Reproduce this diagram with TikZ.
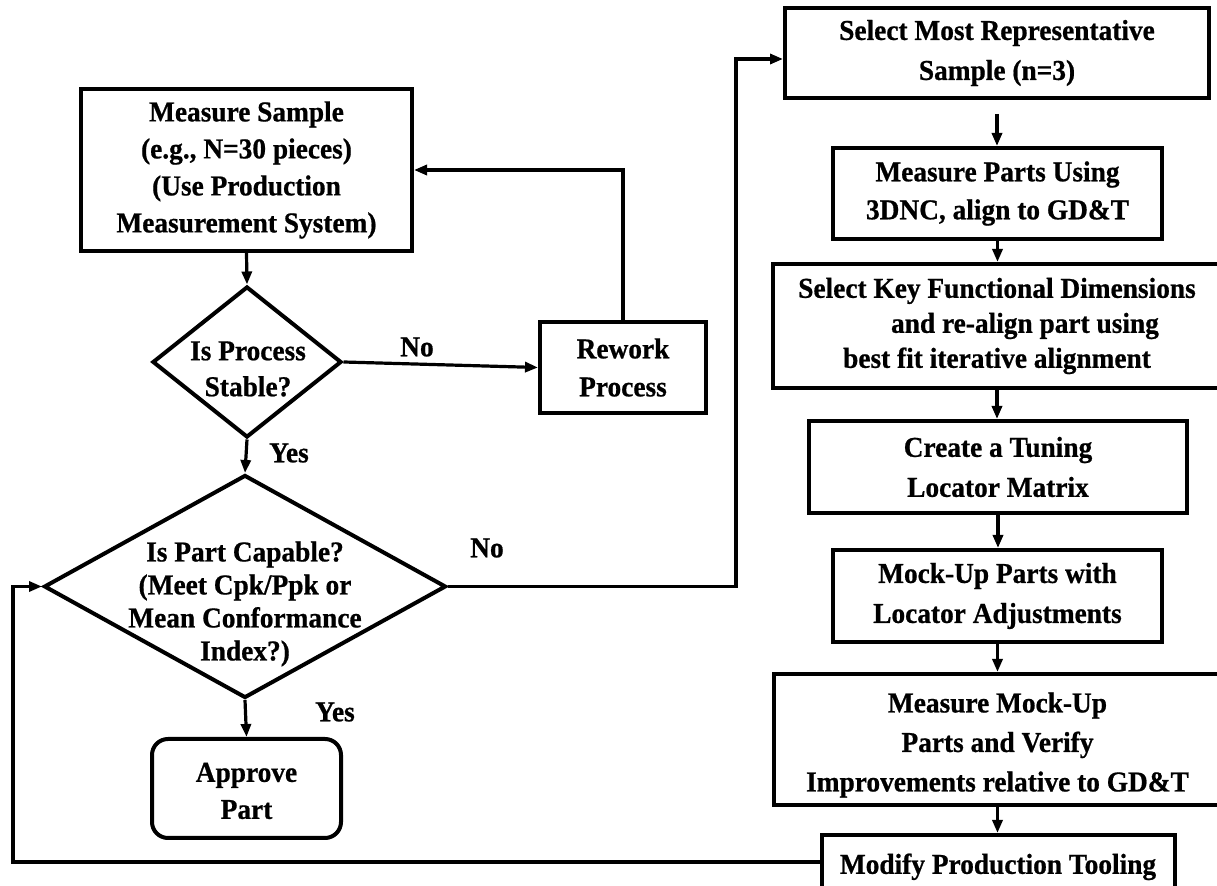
\documentclass[tikz,border=0pt]{standalone}
\usepackage{fontspec}
\setmainfont{Liberation Serif}[BoldFeatures={FakeBold=0.7,FakeStretch=0.95}]
\usetikzlibrary{shapes.geometric,arrows.meta}
\begin{document}
\begin{tikzpicture}[x=0.5pt,y=-0.5pt,
  ls/.style={font=\bfseries\fontsize{14.4}{#1}\selectfont},
  box/.style={draw, line width=2pt, align=center, inner sep=0pt, ls=19pt},
  dia/.style={draw, diamond, line width=2pt, inner sep=0pt},
  dtext/.style={align=center, inner sep=0pt},
  arr/.style={line width=1.6pt, -{Triangle[length=6.5pt,width=5pt]}},
  lbl/.style={inner sep=0pt, ls=16pt},
]
\useasboundingbox (0,0) rectangle (1217,886);

% left column
\node[box, ls=18.5pt, minimum width=165.5pt, minimum height=81pt] (ms) at (246.5,170)
  {Measure Sample\\(e.g., N=30 pieces)\\(Use Production\\Measurement System)};
\node[dia, minimum width=94.5pt, minimum height=75.5pt] (d1) at (247,362) {};
\node[dtext, ls=18pt] (t1) at (248,369) {Is Process\\Stable?};
\node[box, minimum width=83pt, minimum height=45.5pt] (rw) at (623,367.5) {Rework\\Process};
\node[dia, minimum width=201pt, minimum height=111.5pt] (d2) at (245,586.5) {};
\node[dtext, ls=16.5pt] (t2) at (245,604) {Is Part Capable?\\(Meet Cpk/Ppk or\\Mean Conformance\\Index?)};
\node[box, rounded corners=8pt, ls=18.5pt, minimum width=94.5pt, minimum height=49.5pt] (ap) at (246.5,788.5) {\rule{0pt}{12pt}Approve\\Part};

% right column
\node[box, ls=20pt, minimum width=212pt, minimum height=45pt] (s1) at (997,53)
  {Select Most Representative\\Sample (n=3)};
\node[box, minimum width=164.5pt, minimum height=45.5pt] (s2) at (997.5,193.5)
  {Measure Parts Using\\3DNC, align to GD\&T};
\node[box, ls=17.5pt, minimum width=224pt, minimum height=62pt] (s3) at (997,326)
  {Select Key Functional Dimensions\\\hspace*{28pt}and re-align part using\\best fit iterative alignment};
\node[box, ls=20pt, minimum width=189pt, minimum height=46pt] (s4) at (998,467)
  {Create a Tuning\\Locator Matrix};
\node[box, ls=20pt, minimum width=164.5pt, minimum height=46pt] (s5) at (997.5,596)
  {Mock-Up Parts with\\Locator Adjustments};
\node[box, ls=19.75pt, minimum width=223.5pt, minimum height=65.5pt] (s6) at (997.5,739.5)
  {\rule{0pt}{15.5pt}Measure Mock-Up\\Parts and Verify\\Improvements relative to GD\&T};
\node[box, minimum width=176.5pt, minimum height=30pt] (s7) at (998,865)
  {\rule{0pt}{12pt}Modify Production Tooling};

% labels
\node[lbl] (no1) at (417,347) {No};
\node[lbl] (yes1) at (289,453) {Yes};
\node[lbl] (no2) at (487,548) {No};
\node[lbl] (yes2) at (335,712) {Yes};

% connectors
\draw[arr] (ms.south) -- (d1.north);
\draw[arr] (d1.east) -- (rw.west);
\draw[arr] (rw.north) |- (ms.east);
\draw[arr] (d1.south) -- (d2.north);
\draw[arr] (d2.south) -- (ap.north);
\coordinate (rb) at (736,59);
\draw[arr] (d2.east) -| (rb) -- (s1.west |- rb);
\draw[arr, shorten <=7pt] (s1.south) -- (s1.south |- s2.north);
\draw[arr] (s2.south) -- (s2.south |- s3.north);
\draw[arr] (s3.south) -- (s3.south |- s4.north);
\draw[arr] (s4.south) -- (s4.south |- s5.north);
\draw[arr] (s5.south) -- (s5.south |- s6.north);
\draw[arr] (s6.south) -- (s6.south |- s7.north);
\coordinate (lb) at (13,586.5);
\draw[arr] ([yshift=1.5pt]s7.west) -| (lb) -- (d2.west);
\end{tikzpicture}
\end{document}
